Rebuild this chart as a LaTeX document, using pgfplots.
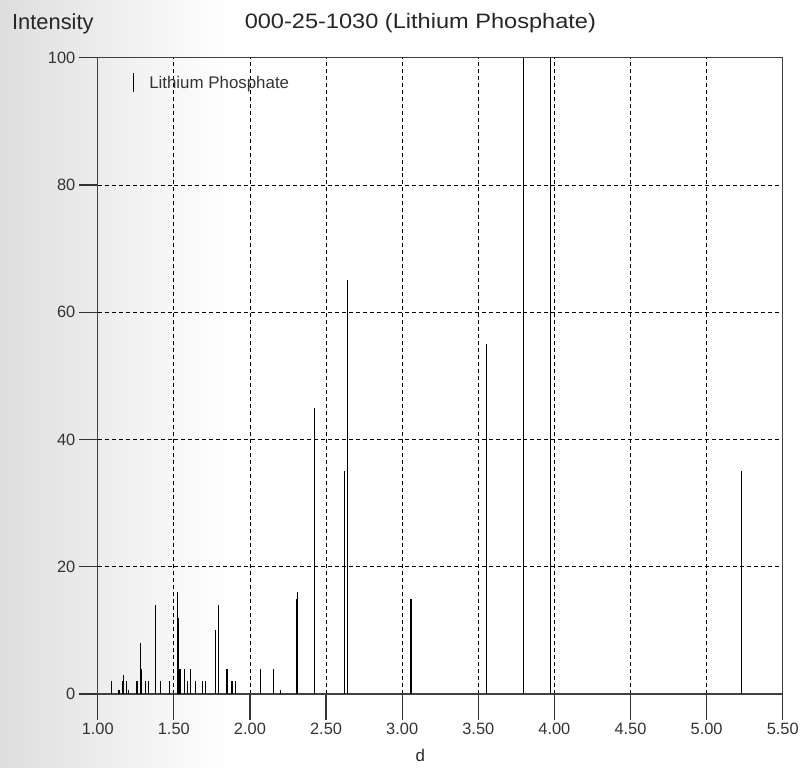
\documentclass[border=0pt]{standalone}
\usepackage{fontspec}
\setmainfont{Liberation Sans}
\usepackage{graphicx}
\usepackage{pgfplots}
\pgfplotsset{compat=1.18}
\begin{document}
\begin{tikzpicture}
\shade[left color=black!13, right color=white] (-98bp,-74bp) rectangle (130bp,696bp);
\begin{axis}[
  scale only axis,
  width=687bp, height=638bp,
  xmin=1, xmax=5.5, ymin=0, ymax=100,
  xtick={1,1.5,...,5.5}, ytick={0,20,...,100},
  clip=false,
  axis line style={black!75, line width=1.1bp},
  tick align=outside,
  tick pos=left,
  major tick length=19bp,
  tick style={black!80, line width=1.2bp},
  xticklabel shift={7bp},
  grid=major,
  major grid style={black, line width=0.8bp, dash pattern=on 4bp off 3bp},
  xticklabel style={/pgf/number format/.cd, fixed, fixed zerofill, precision=2},
  /pgf/number format/assume math mode=true,
  tick label style={font=\fontsize{16.5}{18}\selectfont, text=black!80},
  legend style={draw=none, fill=none, at={(rel axis cs:0.0466,0.9806)}, anchor=north west,
    font=\fontsize{17}{19}\selectfont, text=black!80, legend cell align=left},
  legend image code/.code={\draw[black, line width=1bp] (0.3cm,-9bp) -- (0.3cm,10bp);
    \path[draw=none] (0.3cm,0bp) -- ++(14bp,0bp);},
]
\addplot[ycomb, black, line width=1.1bp, mark=none] coordinates {
(1.093,2) (1.138,0.6) (1.142,0.6) (1.160,2) (1.169,3) (1.189,2) (1.200,0.6)
(1.258,2) (1.280,8) (1.289,4) (1.313,2) (1.336,2) (1.380,14) (1.413,2) (1.469,2)
(1.524,16) (1.533,12) (1.540,4) (1.544,4) (1.568,4) (1.589,2) (1.611,4) (1.643,2)
(1.686,2) (1.708,2) (1.773,10) (1.795,14) (1.849,4) (1.882,2) (1.903,2)
(2.070,4) (2.152,4) (2.198,0.6) (2.304,15) (2.312,16)
(2.424,45) (2.619,35) (2.641,65)
(3.056,15) (3.063,15) (3.553,55) (3.798,100) (3.972,100) (5.227,35)
};
\addlegendentry{Lithium Phosphate}
\foreach \x in {1,1.5,...,5.5} {
  \edef\temp{\noexpand\draw[black!80, line width=1.2bp] (axis cs:\x,0) -- ++(0bp,-26bp);}
  \temp
}
\node[anchor=center, font=\fontsize{21}{23}\selectfont, text=black!85] at (rel axis cs:0.471,1.054) {\scalebox{1.13}[1]{000-25-1030 (Lithium Phosphate)}};
\node[anchor=west, font=\fontsize{22}{24}\selectfont, text=black!85] at (rel axis cs:-0.13,1.054) {Intensity};
\node[anchor=center, font=\fontsize{17}{19}\selectfont, text=black!85] at (rel axis cs:0.471,-0.097) {d};
\end{axis}
\path[use as bounding box] (-98bp,-74bp) rectangle (704bp,696bp);
\end{tikzpicture}
\end{document}
